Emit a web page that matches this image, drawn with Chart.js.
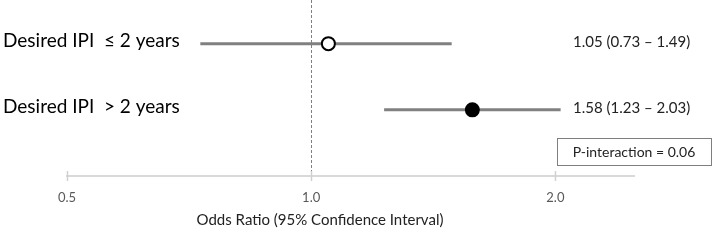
<!DOCTYPE html>
<html>
<head>
<meta charset="utf-8">
<script src="https://cdn.jsdelivr.net/npm/chart.js@4.4.1/dist/chart.umd.min.js"></script>
<style>
html, body { margin: 0; padding: 0; background: #fff; }
</style>
</head>
<body>
<canvas id="myChart" width="714" height="240"></canvas>
<script>
// forest plot data
const grupos = ['Desired IPI  \u2264 2 years', 'Desired IPI  > 2 years'];
const oddsRatio = [1.05, 1.58];
const ciBajo = [0.73, 1.23];
const ciAlto = [1.49, 2.03];
const ticksX = [0.5, 1.0, 2.0];
const textoP = 'P-interaction = 0.06';
const tituloX = 'Odds Ratio (95% Confidence Interval)';

const fuente = 'Lato, "Open Sans", sans-serif';

function etiquetaOR(i) {
    return oddsRatio[i].toFixed(2) + ' (' + ciBajo[i].toFixed(2) + ' \u2013 ' + ciAlto[i].toFixed(2) + ')';
}

const extras = {
    id: 'extras',
    beforeDatasetsDraw(chart) {
        const ctx = chart.ctx;
        const x = chart.scales.x;
        const area = chart.chartArea;
        const px = Math.round(x.getPixelForValue(1)) + 0.5;
        ctx.save();
        ctx.strokeStyle = '#7f7f7f';
        ctx.lineWidth = 1;
        ctx.setLineDash([3, 2]);
        ctx.beginPath();
        ctx.moveTo(px, area.top);
        ctx.lineTo(px, area.bottom - 4);
        ctx.stroke();
        ctx.restore();
    },
    afterDraw(chart) {
        const ctx = chart.ctx;
        const x = chart.scales.x;
        const y = chart.scales.y;
        const area = chart.chartArea;
        ctx.save();

        // marcas del eje
        ctx.strokeStyle = '#d0d0d0';
        ctx.lineWidth = 1.5;
        ticksX.forEach(function (t) {
            const px = Math.round(x.getPixelForValue(t)) + 0.5;
            ctx.beginPath();
            ctx.moveTo(px, area.bottom - 5);
            ctx.lineTo(px, area.bottom + 5);
            ctx.stroke();
        });

        // etiquetas de grupos y valores
        ctx.textBaseline = 'alphabetic';
        for (var i = 0; i < grupos.length; i++) {
            const py = y.getPixelForValue(i + 1);
            ctx.fillStyle = '#000';
            ctx.textAlign = 'left';
            ctx.font = '19px ' + fuente;
            ctx.fillText(grupos[i], 3, py + 3.5);
            ctx.font = '15px ' + fuente;
            ctx.fillStyle = '#222';
            ctx.fillText(etiquetaOR(i), 573, py + 3.5);
        }

        // titulo del eje
        ctx.font = '15px ' + fuente;
        ctx.fillStyle = '#222';
        ctx.textAlign = 'center';
        ctx.fillText(tituloX, 320, 225);

        // caja P-interaction
        ctx.strokeStyle = '#7f7f7f';
        ctx.lineWidth = 1;
        ctx.strokeRect(557.5, 138.5, 154, 27);
        ctx.font = '14px ' + fuente;
        ctx.fillStyle = '#222';
        ctx.textBaseline = 'middle';
        ctx.fillText(textoP, 634, 152);
        ctx.restore();
    }
};

const ctx = document.getElementById('myChart').getContext('2d');
const datasets = [{
    label: 'OR',
    data: oddsRatio.map(function (v, i) { return { x: v, y: i + 1 }; }),
    pointRadius: 6.5,
    pointBackgroundColor: ['#ffffff', '#000000'],
    pointBorderColor: '#000000',
    pointBorderWidth: 2,
    showLine: false
}];
for (var i = 0; i < grupos.length; i++) {
    datasets.push({
        label: grupos[i],
        data: [{ x: ciBajo[i], y: i + 1 }, { x: ciAlto[i], y: i + 1 }],
        showLine: true,
        borderColor: '#808080',
        borderWidth: 3,
        pointRadius: 0
    });
}

const chart = new Chart(ctx, {
    type: 'scatter',
    data: { datasets: datasets },
    plugins: [extras],
    options: {
        responsive: false,
        animation: false,
        devicePixelRatio: 1,
        layout: { autoPadding: false, padding: { left: 67, right: 80, top: 0, bottom: 0 } },
        plugins: { legend: { display: false }, tooltip: { enabled: false } },
        scales: {
            x: {
                type: 'logarithmic',
                min: 0.5,
                max: 2.5,
                afterBuildTicks: function (s) { s.ticks = ticksX.map(function (v) { return { value: v }; }); },
                afterFit: function (s) { s.height = 64; },
                grid: { display: false },
                border: { display: true, color: '#d9d9d9', width: 2 },
                ticks: {
                    autoSkip: false,
                    maxRotation: 0,
                    padding: 6,
                    color: '#595959',
                    font: { family: fuente, size: 13 },
                    callback: function (v) { return Number(v).toFixed(1); }
                }
            },
            y: {
                type: 'linear',
                min: 0.34,
                max: 3.0,
                reverse: true,
                display: false
            }
        }
    }
});
</script>
</body>
</html>
